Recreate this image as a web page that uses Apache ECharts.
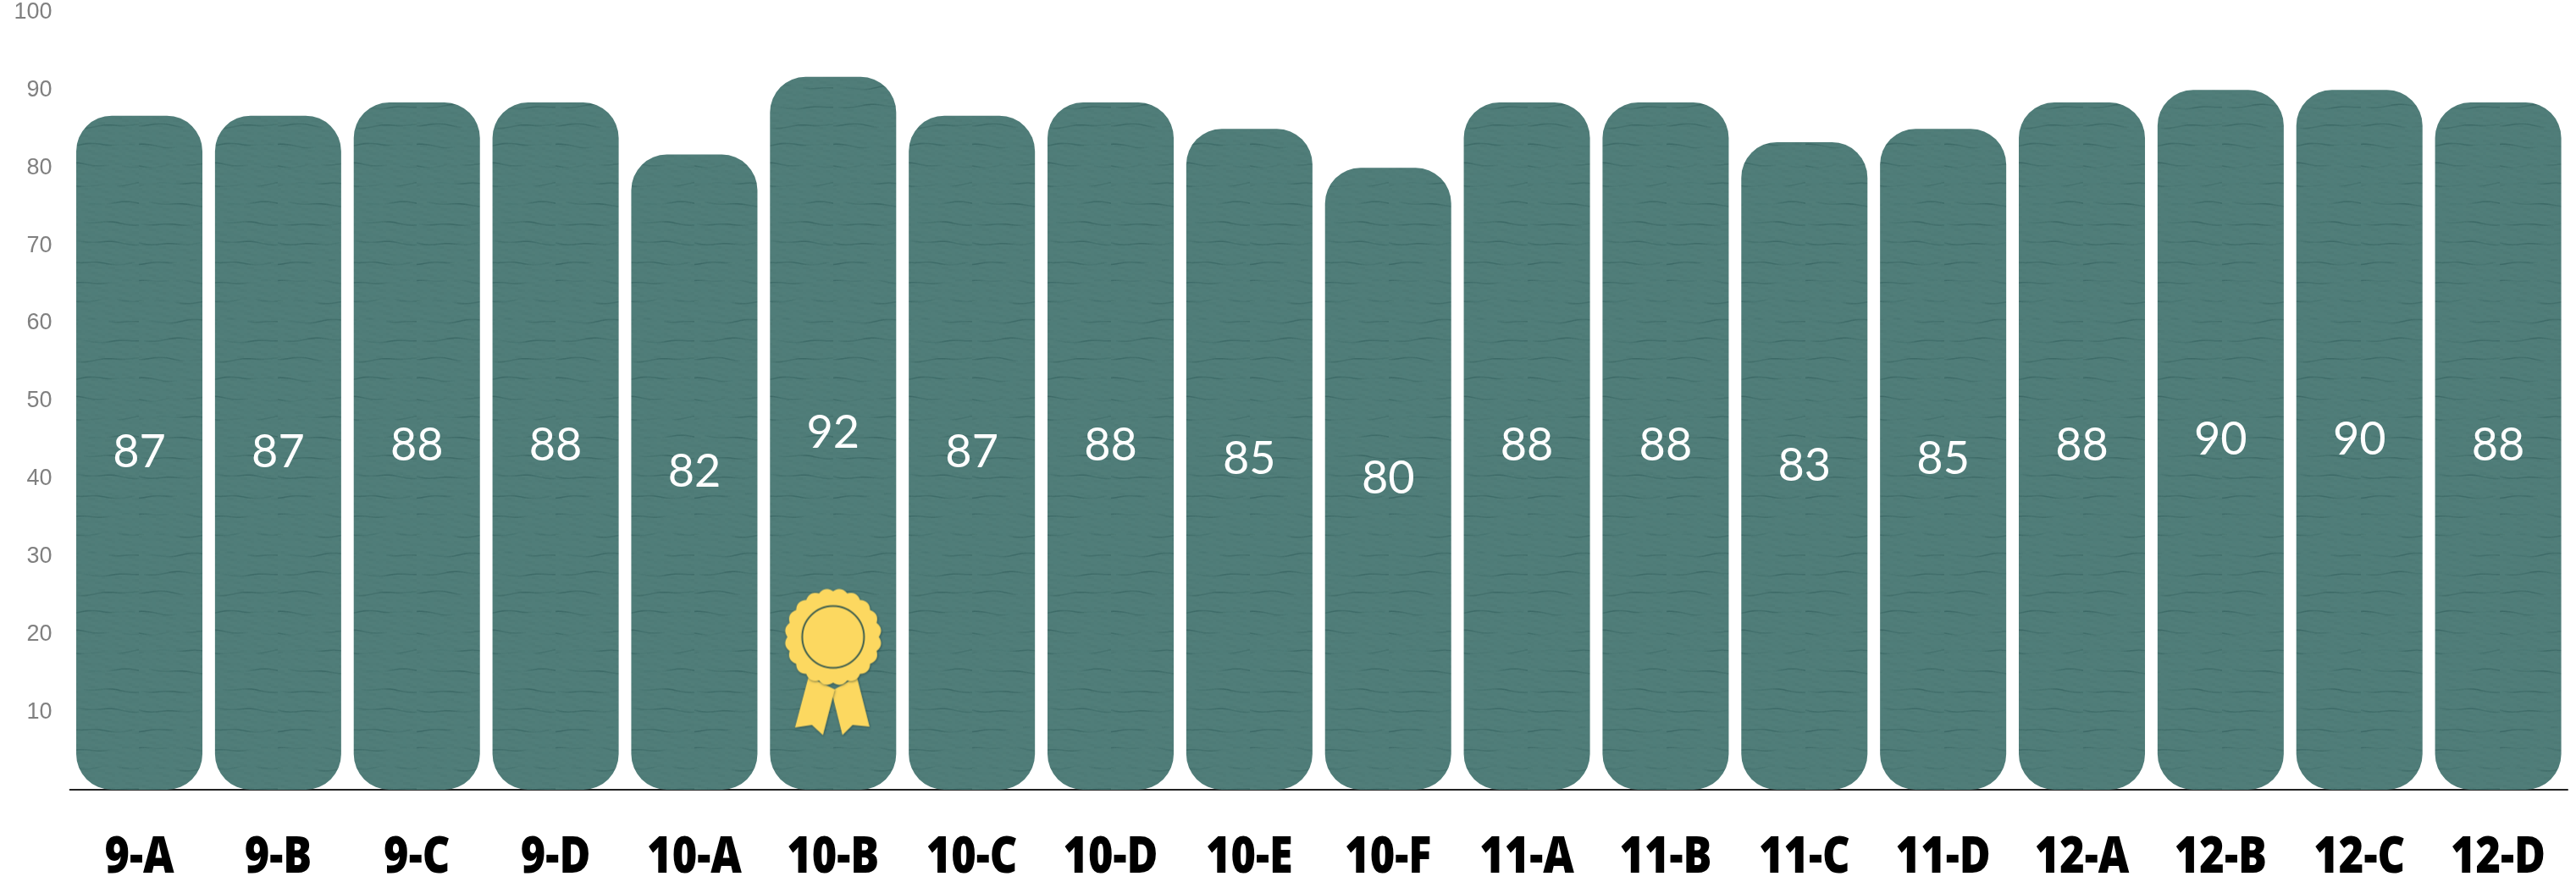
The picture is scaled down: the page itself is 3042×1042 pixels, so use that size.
<!DOCTYPE html>
<html><head><meta charset="utf-8">
<style>html,body{margin:0;padding:0;background:#fff}#c{width:3042px;height:1042px}</style>
<script src="https://cdn.jsdelivr.net/npm/echarts@6/dist/echarts.min.js"></script></head>
<body><div id="c"></div>
<script>
const categories=['9-A','9-B','9-C','9-D','10-A','10-B','10-C','10-D','10-E','10-F','11-A','11-B','11-C','11-D','12-A','12-B','12-C','12-D'];
const scores=[86.7,86.7,88.4,88.4,81.7,91.7,86.7,88.4,85,80,88.4,88.4,83.3,85,88.4,90,90,88.4];
const scoreLabels=[87,87,88,88,82,92,87,88,85,80,88,88,83,85,88,90,90,88];
const awardCategory='10-B';

function texture(){
  const W=164,H=276;
  const c=document.createElement('canvas');c.width=W;c.height=H;
  const g=c.getContext('2d');
  g.fillStyle='#507d79';g.fillRect(0,0,W,H);
  // faint mottling
  for(let y=0;y<H;y+=3){for(let x=0;x<W;x+=4){
    const m=Math.sin(x*.37+y*1.3)+Math.sin(x*.11-y*.71);
    g.fillStyle=m>0?'rgba(110,150,145,'+(m*.03)+')':'rgba(40,80,78,'+(-m*.03)+')';
    g.fillRect(x,y,4,3);
  }}
  // wavy broken creases, one every 23px
  for(let r=0;r<12;r++){
    const y0=11+r*23;
    for(let x=0;x<W;x+=3){
      const f=a=>y0+1.8*Math.sin(a*.045+r*1.7)+1.1*Math.sin(a*.13+r*2.3);
      const alpha=.2+.2*Math.sin(x*.06+r*1.1)+.08*Math.sin(x*.21+r);
      if(alpha<=.04)continue;
      g.strokeStyle='rgba(42,86,84,'+alpha+')';g.lineWidth=1.5;
      g.beginPath();g.moveTo(x,f(x));g.lineTo(x+3,f(x+3));g.stroke();
    }
  }
  return c;
}
function rosette(){
  const s=2,c=document.createElement('canvas');c.width=120*s;c.height=180*s;
  const g=c.getContext('2d');g.scale(s,s);
  const cx=60,cy=61,yellow='#fcd860';
  g.shadowColor='rgba(20,50,50,0.55)';g.shadowBlur=5;g.shadowOffsetX=1;g.shadowOffsetY=2;
  g.fillStyle=yellow;
  g.beginPath();g.moveTo(88,108);g.lineTo(103,167);g.lineTo(83,165);g.lineTo(71,177);g.lineTo(58,125);g.closePath();g.fill();
  g.beginPath();g.moveTo(31,108);g.lineTo(15,168);g.lineTo(35,165);g.lineTo(48,177);g.lineTo(62,123);g.closePath();g.fill();
  g.beginPath();
  const n=20,R=54;
  for(let i=0;i<n;i++){
    const a0=i/n*Math.PI*2,a1=(i+.5)/n*Math.PI*2,a2=(i+1)/n*Math.PI*2;
    const px=cx+R*Math.cos(a0),py=cy+R*Math.sin(a0);
    if(i===0)g.moveTo(px,py);
    g.quadraticCurveTo(cx+(R+7)*Math.cos(a1),cy+(R+7)*Math.sin(a1),cx+R*Math.cos(a2),cy+R*Math.sin(a2));
  }
  g.closePath();g.fill();
  g.shadowColor='transparent';
  g.strokeStyle='#3f5f4f';g.lineWidth=2;
  g.beginPath();g.arc(cx,cy,36.5,0,Math.PI*2);g.stroke();
  return c.toDataURL();
}
const chart=echarts.init(document.getElementById('c'),null,{renderer:'canvas'});
chart.setOption({
  animation:false,backgroundColor:'#fff',
  grid:{left:82.6,right:10,top:14.5,bottom:109},
  xAxis:{type:'category',data:categories,
    axisLine:{show:true,lineStyle:{color:'#222',width:2}},axisTick:{show:false},
    axisLabel:{show:false}},
  yAxis:{type:'value',min:0,max:100,interval:10,
    axisLine:{show:false},
    axisTick:{show:true,length:11,customValues:[0],lineStyle:{color:'#222',width:2}},
    axisLabel:{margin:21,padding:[7,0,0,0],fontFamily:'"Liberation Sans"',fontSize:27,color:'#808080',showMinLabel:false,
      formatter:v=>v===0?'':String(v)},
    splitLine:{show:true,lineStyle:{color:'#f1f1f1',width:2}}},
  series:[{type:'bar',data:scores,barWidth:149,
    itemStyle:{color:{image:texture(),repeat:'repeat'},borderRadius:42},
    label:{show:true,position:'inside',
      formatter:p=>String(scoreLabels[p.dataIndex]),
      fontFamily:'Lato',fontWeight:400,fontSize:54,color:'#fff'},
    markPoint:{silent:true,animation:false,label:{show:false},
      data:[{coord:[awardCategory,16.5],symbol:'image://'+rosette(),symbolSize:[120,180]}]}
  },{
    type:'custom',silent:true,data:categories.map((c,i)=>[i,0]),clip:false,
    encode:{x:0,y:1},
    renderItem:(params,api)=>{
      const p=api.coord([api.value(0),0]);
      return {type:'text',x:p[0],y:p[1]+81,scaleX:.84,
        style:{text:categories[params.dataIndex],fill:'#000',
          font:'800 60px "Open Sans"',textAlign:'center',textVerticalAlign:'middle'}};
    }
  }]
});
</script></body></html>
